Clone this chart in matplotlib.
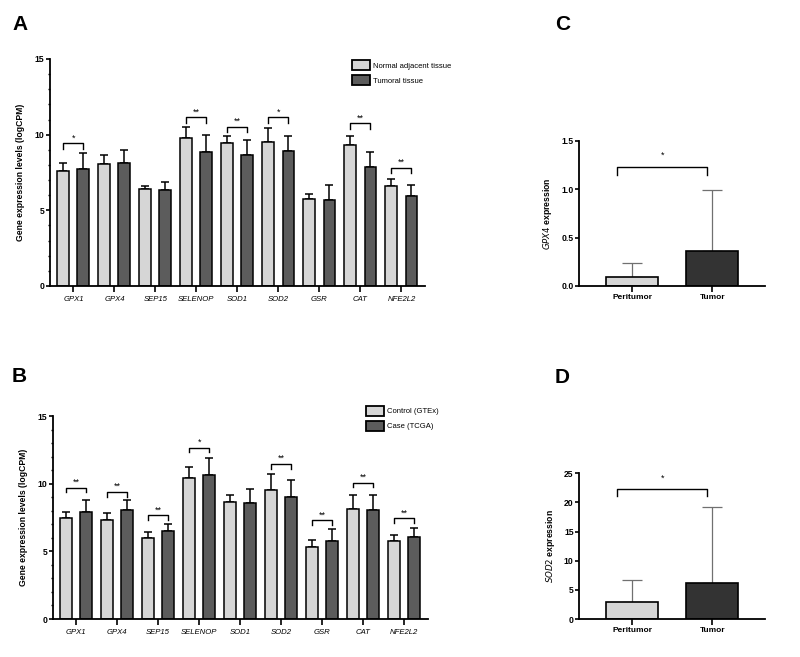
import matplotlib
matplotlib.use('Agg')
import matplotlib.pyplot as plt
import numpy as np
from matplotlib.patches import Patch

plt.rcParams['font.family'] = ['Liberation Sans', 'DejaVu Sans']

genes = ['GPX1', 'GPX4', 'SEP15', 'SELENOP', 'SOD1', 'SOD2', 'GSR', 'CAT', 'NFE2L2']

# panel A - tissue cohort
a_normal = [7.6, 8.05, 6.38, 9.8, 9.42, 9.52, 5.76, 9.32, 6.64]
a_normal_err = [0.5, 0.58, 0.24, 0.68, 0.46, 0.9, 0.35, 0.58, 0.44]
a_tumor = [7.75, 8.15, 6.32, 8.88, 8.64, 8.92, 5.7, 7.85, 5.96]
a_tumor_err = [1.04, 0.84, 0.58, 1.1, 1.04, 0.96, 0.96, 1.02, 0.7]
a_sig_genes = [0, 3, 4, 5, 7, 8]
a_sig_y = [9.42, 11.14, 10.52, 11.14, 10.74, 7.81]
a_sig_txt = ['*', '**', '**', '*', '**', '**']

# panel B - GTEx vs TCGA
b_control = [7.43, 7.3, 6.0, 10.4, 8.66, 9.52, 5.33, 8.12, 5.8]
b_control_err = [0.47, 0.57, 0.44, 0.86, 0.54, 1.21, 0.52, 1.08, 0.42]
b_case = [7.9, 8.07, 6.54, 10.61, 8.59, 9.05, 5.77, 8.02, 6.07]
b_case_err = [0.86, 0.69, 0.49, 1.31, 1.01, 1.21, 0.87, 1.13, 0.64]
b_sig_genes = [0, 1, 2, 3, 5, 6, 7, 8]
b_sig_y = [9.7, 9.4, 7.67, 12.66, 11.47, 7.3, 10.07, 7.45]
b_sig_txt = ['**', '**', '**', '*', '**', '**', '**', '**']

# panels C and D
groups = ['Peritumor', 'Tumor']
c_vals = [0.097, 0.362]
c_err = [0.137, 0.631]
d_vals = [2.92, 6.14]
d_err = [3.85, 13.0]

light = '#d6d6d6'
dark = '#5c5c5c'
darker = '#333333'

fig = plt.figure(figsize=(8, 6.57), dpi=100)


def grouped(ax, v1, e1, v2, e2, sig_idx, sig_y, sig_txt, labels, leg_xy):
    x = np.arange(len(genes))
    off = 0.245
    w = 0.29
    ax.bar(x - off, v1, w, color=light, edgecolor='black', linewidth=1.1, zorder=2)
    ax.bar(x + off, v2, w, color=dark, edgecolor='black', linewidth=1.1, zorder=2)
    ax.errorbar(x - off, v1, yerr=[np.zeros(len(v1)), e1], fmt='none', ecolor='black',
                elinewidth=1.1, capsize=3.2, capthick=1.1, zorder=1)
    ax.errorbar(x + off, v2, yerr=[np.zeros(len(v2)), e2], fmt='none', ecolor='black',
                elinewidth=1.1, capsize=3.2, capthick=1.1, zorder=1)
    for i, y, t in zip(sig_idx, sig_y, sig_txt):
        ax.plot([i - off, i - off, i + off, i + off], [y - 0.35, y, y, y - 0.35],
                color='black', lw=1.0)
        ax.text(i, y + 0.05, t, ha='center', va='bottom', fontsize=6.5)
    ax.set_xlim(-0.57, 8.58)
    ax.set_ylim(0, 15)
    ax.set_yticks([0, 5, 10, 15])
    ax.set_yticks(np.arange(0, 16, 1), minor=True)
    ax.set_xticks(x)
    ax.set_xticklabels(genes, fontstyle='italic', fontsize=5.6)
    for lab in ax.get_yticklabels():
        lab.set_fontweight('bold')
        lab.set_fontsize(6.2)
    ax.tick_params(axis='y', which='major', length=3, width=1.2, pad=1)
    ax.tick_params(axis='y', which='minor', length=1.8, width=1.0)
    ax.tick_params(axis='x', length=4, width=1.2, pad=3)
    ax.set_ylabel('Gene expression levels (logCPM)', fontweight='bold', fontsize=6.2, labelpad=7)
    for s in ['top', 'right']:
        ax.spines[s].set_visible(False)
    for s in ['left', 'bottom']:
        ax.spines[s].set_linewidth(1.3)
    handles = [Patch(facecolor=light, edgecolor='black', linewidth=1.3),
               Patch(facecolor=dark, edgecolor='black', linewidth=1.3)]
    ax.legend(handles, labels, loc='upper left', bbox_to_anchor=leg_xy, frameon=False,
              fontsize=5.5, handlelength=2.3, handleheight=1.6, labelspacing=0.7,
              handletextpad=0.5, borderpad=0, borderaxespad=0)


axA = fig.add_axes([0.0625, 0.5647, 0.469, 0.3455])
grouped(axA, a_normal, a_normal_err, a_tumor, a_tumor_err, a_sig_genes, a_sig_y, a_sig_txt,
        ['Normal adjacent tissue', 'Tumoral tissue'], (0.805, 0.995))

axB = fig.add_axes([0.066, 0.0578, 0.469, 0.309])
grouped(axB, b_control, b_control_err, b_case, b_case_err, b_sig_genes, b_sig_y, b_sig_txt,
        ['Control (GTEx)', 'Case (TCGA)'], (0.835, 1.05))


def twobar(ax, vals, err, ymax, step, ylab_gene, br_y, br_drop, fmt):
    x = np.arange(len(groups))
    ax.bar(x, vals, 0.65, color=[light, darker], edgecolor='black', linewidth=1.2, zorder=2)
    ax.errorbar(x, vals, yerr=[np.zeros(2), err], fmt='none', ecolor='#707070',
                elinewidth=0.9, capsize=7, capthick=0.9, zorder=1)
    ax.plot([-0.19, -0.19, 0.94, 0.94], [br_y - br_drop, br_y, br_y, br_y - br_drop],
            color='black', lw=1.0)
    ax.text(0.375, br_y + br_drop * 0.9, '*', ha='center', va='bottom', fontsize=6.5)
    ax.set_xlim(-0.66, 1.66)
    ax.set_ylim(0, ymax)
    ticks = np.arange(0, ymax + step / 2, step)
    ax.set_yticks(ticks)
    ax.set_yticklabels([fmt.format(t) for t in ticks], fontweight='bold', fontsize=6.2)
    ax.set_xticks(x)
    ax.set_xticklabels(groups, fontweight='bold', fontsize=6)
    ax.tick_params(axis='y', length=3, width=1.2, pad=1)
    ax.tick_params(axis='x', length=4, width=1.2, pad=2)
    ax.set_ylabel('$\\mathbf{\\mathit{' + ylab_gene + '}}$ expression', fontweight='bold',
                  fontsize=6.2, labelpad=5)
    for s in ['top', 'right']:
        ax.spines[s].set_visible(False)
    for s in ['left', 'bottom']:
        ax.spines[s].set_linewidth(1.3)


axC = fig.add_axes([0.724, 0.5647, 0.2325, 0.2207])
twobar(axC, c_vals, c_err, 1.5, 0.5, 'GPX4', 1.23, 0.08, '{:.1f}')

axD = fig.add_axes([0.724, 0.0578, 0.2325, 0.222])
twobar(axD, d_vals, d_err, 25, 5, 'SOD2', 22.3, 1.2, '{:.0f}')

for lbl, xx, yy in [('A', 12, 30), ('B', 12, 382), ('C', 555, 30), ('D', 555, 383)]:
    fig.text(xx / 800, 1 - yy / 657, lbl, fontsize=15, fontweight='bold', ha='left', va='baseline')

fig.savefig('out.png', dpi=100)
